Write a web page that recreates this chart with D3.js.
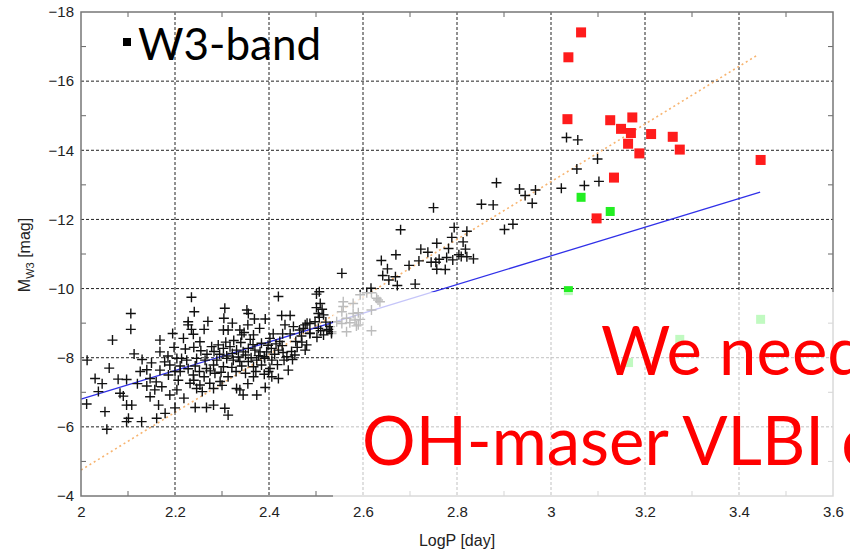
<!DOCTYPE html>
<html lang="en">
<head>
    <meta charset="UTF-8">
    <title>W3-band period-luminosity</title>
    <script src="https://d3js.org/d3.v7.min.js"></script>
    <style>
        body { margin: 0; background: #fff; }
        .tick text { font-family: "Liberation Sans", Arial, sans-serif; font-size: 15px; fill: #222; }
    </style>
</head>
<body>
    <svg id="chart" width="850" height="550"></svg>
    <script>
        // ---- data ----
        const xTicks = [2, 2.2, 2.4, 2.6, 2.8, 3, 3.2, 3.4, 3.6];
        const yTicks = [-18, -16, -14, -12, -10, -8, -6, -4];

        // black crosses: [logP, M_W3]
        const crosses = [
            [3.033,-14.37],[3.057,-14.30],[3.099,-13.75],[3.055,-13.46],[3.102,-13.10],[3.071,-12.98],[3.022,-12.90],
            [2.884,-13.06],[2.933,-12.88],[2.967,-12.85],[2.945,-12.69],[2.960,-12.47],[2.852,-12.44],[2.877,-12.42],
            [2.750,-12.34],[2.901,-11.71],[2.919,-11.86],[2.680,-11.70],[2.821,-11.66],[2.794,-11.77],[2.789,-11.48],
            [2.813,-11.35],[2.757,-11.31],[2.723,-11.14],[2.738,-11.05],[2.818,-11.14],[2.782,-11.16],[2.804,-10.98],
            [2.835,-10.86],[2.821,-10.92],[2.809,-10.93],[2.670,-10.98],[2.639,-10.81],[2.778,-10.90],[2.762,-10.85],
            [2.745,-10.76],[2.719,-10.80],[2.698,-10.67],[2.755,-10.76],[2.757,-10.56],[2.775,-10.55],[2.791,-10.83],
            [2.652,-10.57],[2.555,-10.44],[2.642,-10.38],[2.669,-10.34],[2.655,-10.25],[2.673,-10.09],[2.711,-10.13],
            [2.617,-10.01],[2.608,-9.88],[2.507,-9.91],[2.501,-9.84],[2.509,-9.57],[2.513,-9.40],[2.501,-9.45],
            [2.516,-9.24],[2.507,-9.17],[2.481,-9.00],[2.528,-8.82],[2.521,-9.03],[2.473,-8.85],[2.510,-8.78],
            [2.487,-8.70],[2.530,-8.90],[2.523,-8.80],[2.533,-8.75],[2.516,-8.66],[2.480,-8.37],
            [2.558,-9.48],[2.555,-9.33],[2.579,-9.28],[2.590,-9.30],[2.565,-9.14],[2.583,-9.09],[2.594,-9.11],
            [2.555,-8.99],[2.572,-9.01],[2.586,-8.92],[2.565,-8.75],[2.618,-8.78],[2.636,-9.62],[2.629,-9.72],
            [2.594,-9.82],[2.618,-9.88],[2.558,-9.62],[2.579,-9.57],[2.618,-9.38],[2.632,-9.67],[2.544,-9.04],
            [2.590,-8.95],[2.533,-8.70],
            [2.235,-9.75],[2.420,-9.77],[2.106,-9.28],[2.106,-8.82],[2.067,-8.51],[2.241,-9.33],[2.228,-9.04],
            [2.228,-8.95],[2.306,-9.43],[2.304,-9.14],[2.353,-9.38],[2.356,-9.28],[2.369,-9.12],[2.392,-9.12],
            [2.427,-9.22],[2.445,-9.22],[2.434,-8.95],[2.452,-8.90],[2.487,-8.99],[2.498,-9.04],[2.477,-8.95],
            [2.235,-8.82],[2.262,-8.82],[2.239,-8.68],[2.303,-8.80],[2.313,-8.80],[2.338,-8.80],[2.347,-8.73],
            [2.342,-8.66],[2.367,-8.66],[2.360,-8.53],[2.409,-8.69],[2.429,-8.69],[2.445,-8.69],[2.384,-8.42],
            [2.402,-8.56],[2.423,-8.47],[2.457,-8.47],[2.469,-8.63],[2.487,-8.71],[2.502,-8.59],[2.168,-8.51],
            [2.218,-8.56],[2.253,-8.46],[2.278,-8.32],[2.292,-8.37],[2.303,-8.27],[2.317,-8.32],[2.331,-8.22],
            [2.345,-8.17],[2.356,-8.27],[2.370,-8.22],[2.381,-8.17],[2.395,-8.17],[2.405,-8.27],[2.168,-8.17],
            [2.113,-8.11],[2.130,-7.95],[2.204,-7.98],[2.214,-7.98],[2.225,-7.93],[2.246,-7.98],[2.264,-7.93],
            [2.289,-7.93],[2.310,-7.98],[2.324,-7.93],[2.338,-7.89],[2.356,-7.89],[2.374,-7.93],[2.391,-7.98],
            [2.406,-7.93],[2.432,-7.93],[2.455,-8.08],[2.477,-8.22],[2.013,-7.93],[2.189,-7.79],[2.211,-7.76],
            [2.243,-7.76],[2.267,-7.69],[2.282,-7.79],[2.303,-7.74],[2.321,-7.72],[2.342,-7.76],[2.367,-7.74],
            [2.384,-7.79],[2.402,-7.69],[2.441,-7.64],[2.126,-7.60],[2.168,-7.64],[2.186,-7.50],[2.211,-7.60],
            [2.239,-7.50],[2.262,-7.45],[2.285,-7.55],[2.313,-7.45],[2.367,-7.45],[2.399,-7.60],[2.030,-7.40],
            [2.079,-7.38],[2.097,-7.37],[2.147,-7.40],[2.207,-7.35],[2.232,-7.26],[2.253,-7.21],[2.274,-7.26],
            [2.296,-7.31],[2.331,-7.11],[2.392,-7.14],[2.037,-7.02],[2.083,-6.97],[2.140,-7.18],[2.157,-7.07],
            [2.172,-7.16],[2.189,-6.92],[2.147,-6.87],[2.219,-6.83],[2.258,-7.02],[2.282,-7.11],[2.345,-6.92],
            [2.374,-6.92],[2.090,-6.89],[2.012,-6.66],[2.097,-6.63],[2.108,-6.63],[2.165,-6.63],[2.243,-6.56],
            [2.267,-6.56],[2.282,-6.63],[2.051,-6.44],[2.101,-6.25],[2.097,-6.15],[2.129,-6.15],[2.161,-6.25],
            [2.179,-6.39],[2.306,-6.54],[2.313,-6.34],[2.055,-5.93],[2.448,-8.18],[2.438,-8.03],[2.505,-8.85],
            [2.505,-9.28],[2.406,-7.45],[2.338,-7.07],[2.246,-7.11],[2.204,-7.07],
            // denser core of the cloud
            [2.295,-8.10],[2.310,-8.05],[2.322,-8.12],[2.335,-8.02],[2.350,-8.08],[2.362,-8.00],[2.378,-8.06],
            [2.390,-8.03],[2.412,-8.10],[2.420,-8.22],[2.428,-8.35],[2.415,-8.40],[2.398,-8.36],[2.366,-8.38],
            [2.340,-8.44],[2.325,-8.50],[2.308,-8.45],[2.283,-8.18],[2.268,-8.10],[2.255,-8.20],[2.240,-8.30],
            [2.222,-8.25],[2.198,-8.30],[2.185,-8.05],[2.178,-7.88],[2.200,-7.60],[2.228,-7.68],[2.252,-7.60],
            [2.275,-7.62],[2.298,-7.58],[2.330,-7.60],[2.350,-7.55],[2.372,-7.60],[2.390,-7.52],[2.418,-7.80],
            [2.430,-8.15],[2.460,-8.30],[2.470,-8.45],[2.450,-7.95],[2.465,-8.80],[2.355,-8.95],[2.380,-8.85],
            [2.322,-9.00],[2.270,-9.05],[2.195,-8.70],[2.150,-7.85],[2.140,-7.65],[2.160,-7.30],[2.120,-7.25],
            [2.240,-7.35],[2.300,-7.20],[2.355,-7.25],[2.420,-7.40],[2.060,-7.70],[2.045,-7.25],[2.200,-6.55]
        ];

        const redP = [3.064, 3.037, 3.035, 3.126, 3.173, 3.149, 3.170, 3.213, 3.259, 3.164, 3.188, 3.274, 3.446, 3.134, 3.097];
        const redM = [-17.41, -16.69, -14.90, -14.87, -14.95, -14.62, -14.50, -14.47, -14.39, -14.19, -13.91, -14.02, -13.72, -13.21, -12.03];

        const greenP = [3.064, 3.126, 3.037, 3.446, 3.274, 3.165];
        const greenM = [-12.64, -12.23, -9.94, -9.11, -8.53, -7.86];

        // fitted relations (end points)
        const blueFit = [[2, -6.8], [3.445, -12.79]];
        const orangeFit = [[2, -4.75], [3.44, -16.76]];

        // ---- layout ----
        const pl = 81, pr = 833, pt = 12, pb = 496;
        const svg = d3.select("#chart");

        const x = d3.scaleLinear().domain([2, 3.6]).range([pl, pr]);
        const y = d3.scaleLinear().domain([-18, -4]).range([pt, pb]);

        const minorX = d3.range(2.1, 3.6, 0.2).map(v => +v.toFixed(1));
        const minorY = d3.range(-17, -4, 2);

        // grid
        const grid = svg.append("g").attr("stroke", "#222").attr("stroke-width", 1).attr("stroke-dasharray", "3,2");
        grid.selectAll(".gx").data(xTicks.slice(1, -1)).enter().append("line")
            .attr("x1", d => x(d)).attr("x2", d => x(d)).attr("y1", pt).attr("y2", pb);
        grid.selectAll(".gy").data(yTicks.slice(1, -1)).enter().append("line")
            .attr("x1", pl).attr("x2", pr).attr("y1", d => y(d)).attr("y2", d => y(d));

        // minor ticks on all four sides
        const tk = svg.append("g").attr("stroke", "#666").attr("stroke-width", 1);
        minorX.forEach(v => {
            tk.append("line").attr("x1", x(v)).attr("x2", x(v)).attr("y1", pb).attr("y2", pb - 5);
            tk.append("line").attr("x1", x(v)).attr("x2", x(v)).attr("y1", pt).attr("y2", pt + 5);
        });
        minorY.forEach(v => {
            tk.append("line").attr("x1", pl).attr("x2", pl + 5).attr("y1", y(v)).attr("y2", y(v));
            tk.append("line").attr("x1", pr).attr("x2", pr - 5).attr("y1", y(v)).attr("y2", y(v));
        });

        // fits
        const line = d3.line().x(d => x(d[0])).y(d => y(d[1]));
        svg.append("path").datum(orangeFit).attr("d", line)
            .attr("fill", "none").attr("stroke", "#f7b470").attr("stroke-width", 1.6).attr("stroke-dasharray", "2,3");
        svg.append("path").datum(blueFit).attr("d", line)
            .attr("fill", "none").attr("stroke", "#3030e8").attr("stroke-width", 1.3);

        // crosses
        const arm = 5;
        svg.append("g").selectAll("path").data(crosses).enter().append("path")
            .attr("d", d => `M${x(d[0]) - arm},${y(d[1])}h${2 * arm}M${x(d[0])},${y(d[1]) - arm}v${2 * arm}`)
            .attr("stroke", "#111").attr("stroke-width", 1.4).attr("fill", "none");

        // red squares
        svg.append("g").selectAll("rect").data(redP).enter().append("rect")
            .attr("x", d => x(d) - 5).attr("y", (d, i) => y(redM[i]) - 5)
            .attr("width", 10).attr("height", 10).attr("fill", "#ff1c1c");

        // green squares
        svg.append("g").selectAll("rect").data(greenP).enter().append("rect")
            .attr("x", d => x(d) - 4.5).attr("y", (d, i) => y(greenM[i]) - 4.5)
            .attr("width", 9).attr("height", 9).attr("fill", "#22ee22");

        // frame
        svg.append("rect").attr("x", pl).attr("y", pt).attr("width", pr - pl).attr("height", pb - pt)
            .attr("fill", "none").attr("stroke", "#777").attr("stroke-width", 1.5);

        // tick labels
        const xAxis = svg.append("g").attr("transform", `translate(0,${pb})`)
            .call(d3.axisBottom(x).tickValues(xTicks).tickSize(0).tickPadding(10).tickFormat(d3.format("")));
        const yAxis = svg.append("g").attr("transform", `translate(${pl},0)`)
            .call(d3.axisLeft(y).tickValues(yTicks).tickSize(0).tickPadding(7).tickFormat(d3.format("")));
        [xAxis, yAxis].forEach(a => a.select(".domain").remove());
        svg.selectAll(".tick text").attr("font-family", null).attr("font-size", null);

        svg.append("text").attr("x", 457).attr("y", 546).attr("text-anchor", "middle")
            .attr("font-family", "Liberation Sans, Arial, sans-serif").attr("font-size", 16).attr("fill", "#222")
            .text("LogP [day]");

        const yl = svg.append("text").attr("transform", "translate(30,255) rotate(-90)").attr("text-anchor", "middle")
            .attr("font-family", "Liberation Sans, Arial, sans-serif").attr("font-size", 16).attr("fill", "#222");
        yl.append("tspan").text("M");
        yl.append("tspan").attr("font-size", 11).attr("dy", 4).text("W3");
        yl.append("tspan").attr("dy", -4).text(" [mag]");

        // legend
        svg.append("rect").attr("x", 123).attr("y", 38).attr("width", 8).attr("height", 8).attr("fill", "#000");
        svg.append("text").attr("x", 138).attr("y", 60)
            .attr("font-family", "Lato, 'Open Sans', sans-serif").attr("font-size", 44).attr("fill", "#000")
            .text("W3-band");

        // translucent box with the slide text (cut by the page edge, as in the slide)
        svg.append("rect").attr("x", 333).attr("y", 292).attr("width", 850 - 333).attr("height", 208)
            .attr("fill", "#fff").attr("opacity", 0.72);
        svg.append("text").attr("x", 601).attr("y", 375)
            .attr("font-family", "Lato, 'Open Sans', sans-serif").attr("font-size", 67).attr("fill", "#ff0000")
            .text("We need");
        svg.append("text").attr("x", 362).attr("y", 465)
            .attr("font-family", "Lato, 'Open Sans', sans-serif").attr("font-size", 67).attr("fill", "#ff0000")
            .text("OH-maser VLBI data");
    </script>
</body>
</html>
